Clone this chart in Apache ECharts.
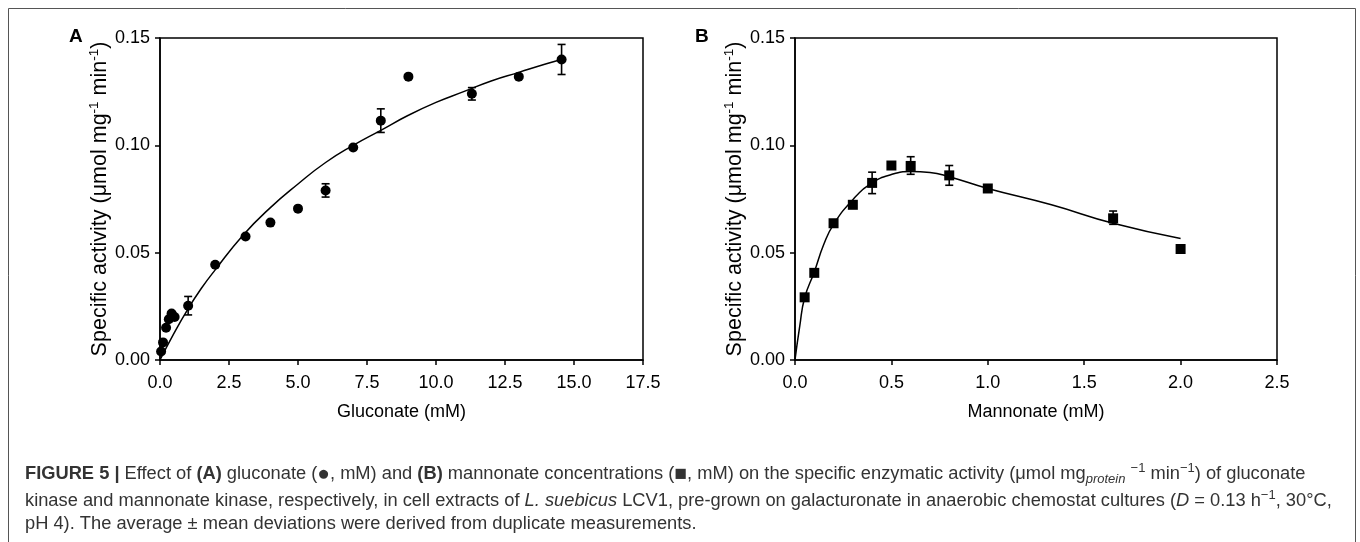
<!DOCTYPE html>
<html><head><meta charset="utf-8">
<script src="https://cdn.jsdelivr.net/npm/echarts@6/dist/echarts.min.js"></script>
<style>html,body{margin:0;padding:0;background:#fff}#c{width:1360px;height:542px}</style>
</head><body><div id="c"></div>
<script>
// Panel A: gluconate
const gluX = [0.04, 0.11, 0.22, 0.32, 0.42, 0.53, 1.02, 2.0, 3.1, 4.0, 5.0, 6.0, 7.0, 8.0, 9.0, 11.3, 13.0, 14.55];
const gluY = [0.004, 0.0082, 0.015, 0.019, 0.0217, 0.020, 0.0253, 0.0444, 0.0575, 0.064, 0.0705, 0.079, 0.099, 0.1115, 0.132, 0.124, 0.132, 0.140];
const gluErrX = [1.02, 6.0, 8.0, 11.3, 14.55];
const gluErrY = [0.0253, 0.079, 0.1115, 0.124, 0.140];
const gluErr = [0.0043, 0.0031, 0.0055, 0.0029, 0.007];
const gluFitX = [0, 0.5, 1, 1.5, 2, 3, 4, 5, 6, 7, 8, 9, 10, 11, 12, 13, 14, 14.55];
const gluFitY = [0, 0.0123, 0.0235, 0.0334, 0.042, 0.058, 0.071, 0.082, 0.092, 0.100, 0.107, 0.114, 0.120, 0.125, 0.130, 0.134, 0.138, 0.140];
// Panel B: mannonate
const manX = [0.05, 0.1, 0.2, 0.3, 0.4, 0.5, 0.6, 0.8, 1.0, 1.65, 2.0];
const manY = [0.0292, 0.0406, 0.0637, 0.0723, 0.0825, 0.0906, 0.0904, 0.086, 0.0799, 0.066, 0.0517];
const manErrX = [0.4, 0.6, 0.8, 1.65];
const manErrY = [0.0825, 0.0906, 0.086, 0.0663];
const manErr = [0.005, 0.0041, 0.0046, 0.0031];
const manFitX = [0, 0.025, 0.05, 0.1, 0.15, 0.2, 0.3, 0.4, 0.5, 0.6, 0.7, 0.8, 1.0, 1.33, 1.65, 2.0];
const manFitY = [0, 0.016, 0.029, 0.041, 0.054, 0.0632, 0.0747, 0.0825, 0.0864, 0.0878, 0.0874, 0.0854, 0.0799, 0.0723, 0.0637, 0.0566];
// Tick labels
const gluTicks = ['0.0', '2.5', '5.0', '7.5', '10.0', '12.5', '15.0', '17.5'];
const manTicks = ['0.0', '0.5', '1.0', '1.5', '2.0', '2.5'];
const yTicks = ['0.00', '0.05', '0.10', '0.15'];

const FONT = 'Liberation Sans';
const zip = (a, b) => a.map((v, i) => [v, b[i]]);
const zip3 = (a, b, c) => a.map((v, i) => [v, b[i], c[i]]);

function errRender(params, api) {
  const x = api.value(0), y = api.value(1), e = api.value(2);
  const hi = api.coord([x, y + e]), lo = api.coord([x, y - e]);
  const w = 4;
  const st = { stroke: '#000', lineWidth: 1.6 };
  return { type: 'group', children: [
    { type: 'line', shape: { x1: hi[0], y1: hi[1], x2: lo[0], y2: lo[1] }, style: st },
    { type: 'line', shape: { x1: hi[0] - w, y1: hi[1], x2: hi[0] + w, y2: hi[1] }, style: st },
    { type: 'line', shape: { x1: lo[0] - w, y1: lo[1], x2: lo[0] + w, y2: lo[1] }, style: st }
  ]};
}

function xAx(idx, max, interval, ticks, name) {
  return {
    type: 'value', gridIndex: idx, min: 0, max: max, interval: interval,
    name: name, nameLocation: 'middle', nameGap: 43,
    nameTextStyle: { fontFamily: FONT, fontSize: 18, color: '#000' },
    axisLine: { lineStyle: { color: '#000', width: 1.5 } },
    axisTick: { show: true, length: 5, lineStyle: { color: '#000', width: 1.5 } },
    axisLabel: { fontFamily: FONT, fontSize: 18, color: '#000', margin: 14,
      formatter: v => ticks[Math.round(v / interval)] },
    splitLine: { show: false }
  };
}
const yName = '{a|Specific activity (μmol mg}{s|-1}{a| min}{s|-1}{a|)}';
function yAx(idx) {
  return {
    type: 'value', gridIndex: idx, min: 0, max: 0.15, interval: 0.05,
    name: yName, nameLocation: 'middle', nameGap: 46,
    nameTextStyle: { fontFamily: FONT, fontSize: 21.5, color: '#000',
      rich: {
        a: { fontFamily: FONT, fontSize: 21.5, color: '#000', lineHeight: 26, verticalAlign: 'middle' },
        s: { fontFamily: FONT, fontSize: 13.5, color: '#000', lineHeight: 15, verticalAlign: 'top' }
      } },
    axisLine: { lineStyle: { color: '#000', width: 1.5 } },
    axisTick: { show: true, length: 5, lineStyle: { color: '#000', width: 1.5 } },
    axisLabel: { fontFamily: FONT, fontSize: 18, color: '#000', margin: 10,
      formatter: v => yTicks[Math.round(v / 0.05)] },
    splitLine: { show: false }
  };
}

const CF = 18.3;
const cap = {
  n: { fontFamily: FONT, fontSize: CF, fill: '#333', lineHeight: 24, verticalAlign: 'middle' },
  b: { fontFamily: FONT, fontSize: CF, fontWeight: 'bold', fill: '#333', lineHeight: 24, verticalAlign: 'middle' },
  i: { fontFamily: FONT, fontSize: CF, fontStyle: 'italic', fill: '#333', lineHeight: 24, verticalAlign: 'middle' },
  sym: { fontFamily: FONT, fontSize: 21, fill: '#333', lineHeight: 24, verticalAlign: 'middle' },
  sup: { fontFamily: FONT, fontSize: 13, fill: '#333', lineHeight: 13, verticalAlign: 'top' },
  sub: { fontFamily: FONT, fontSize: 13, fontStyle: 'italic', fill: '#333', lineHeight: 13, verticalAlign: 'bottom' }
};
const capLine1 = '{b|FIGURE 5 | }{n|Effect of }{b|(A)}{n| gluconate (}{sym|●}{n|, mM) and }{b|(B)}{n| mannonate concentrations (}{sym|■}{n|, mM) on the specific enzymatic activity (μmol mg}{sub|protein}{n| }{sup|−1}{n| min}{sup|−1}{n|) of gluconate}';
const capLine2 = '{n|kinase and mannonate kinase, respectively, in cell extracts of }{i|L. suebicus}{n| LCV1, pre-grown on galacturonate in anaerobic chemostat cultures (}{i|D}{n| = 0.13 h}{sup|−1}{n|, 30°C,}';
const capLine3 = '{n|pH 4). The average ± mean deviations were derived from duplicate measurements.}';

const chart = echarts.init(document.getElementById('c'), null, { renderer: 'canvas' });
chart.setOption({
  animation: false,
  backgroundColor: '#fff',
  grid: [
    { left: 160, top: 38, width: 483, height: 322, show: true, borderColor: '#000', borderWidth: 1.5, containLabel: false },
    { left: 795, top: 38, width: 482, height: 322, show: true, borderColor: '#000', borderWidth: 1.5, containLabel: false }
  ],
  xAxis: [ xAx(0, 17.5, 2.5, gluTicks, 'Gluconate (mM)'), xAx(1, 2.5, 0.5, manTicks, 'Mannonate (mM)') ],
  yAxis: [ yAx(0), yAx(1) ],
  series: [
    { type: 'line', xAxisIndex: 0, yAxisIndex: 0, data: zip(gluFitX, gluFitY), showSymbol: false, smooth: true,
      lineStyle: { color: '#000', width: 1.5 }, silent: true },
    { type: 'custom', xAxisIndex: 0, yAxisIndex: 0, data: zip3(gluErrX, gluErrY, gluErr), renderItem: errRender, clip: false },
    { type: 'scatter', xAxisIndex: 0, yAxisIndex: 0, data: zip(gluX, gluY), symbol: 'circle', symbolSize: 10,
      itemStyle: { color: '#000', opacity: 1 }, clip: false },
    { type: 'line', xAxisIndex: 1, yAxisIndex: 1, data: zip(manFitX, manFitY), showSymbol: false, smooth: true,
      lineStyle: { color: '#000', width: 1.5 }, silent: true },
    { type: 'custom', xAxisIndex: 1, yAxisIndex: 1, data: zip3(manErrX, manErrY, manErr), renderItem: errRender, clip: false },
    { type: 'scatter', xAxisIndex: 1, yAxisIndex: 1, data: zip(manX, manY), symbol: 'rect', symbolSize: 10,
      itemStyle: { color: '#000', opacity: 1 }, clip: false }
  ],
  graphic: [
    { type: 'polyline', shape: { points: [[8.5, 542], [8.5, 8.5], [1355.5, 8.5], [1355.5, 542]] },
      style: { stroke: '#555', lineWidth: 1, fill: null } },
    { type: 'text', left: 69, top: 27, style: { text: 'A', font: 'bold 19px "Liberation Sans"', fill: '#000' } },
    { type: 'text', left: 695, top: 27, style: { text: 'B', font: 'bold 19px "Liberation Sans"', fill: '#000' } },
    { type: 'text', left: 25, top: 462, style: { text: capLine1, rich: cap } },
    { type: 'text', left: 25, top: 489, style: { text: capLine2, rich: cap } },
    { type: 'text', left: 25, top: 515, style: { text: capLine3, rich: cap } }
  ]
});
</script>
</body></html>
